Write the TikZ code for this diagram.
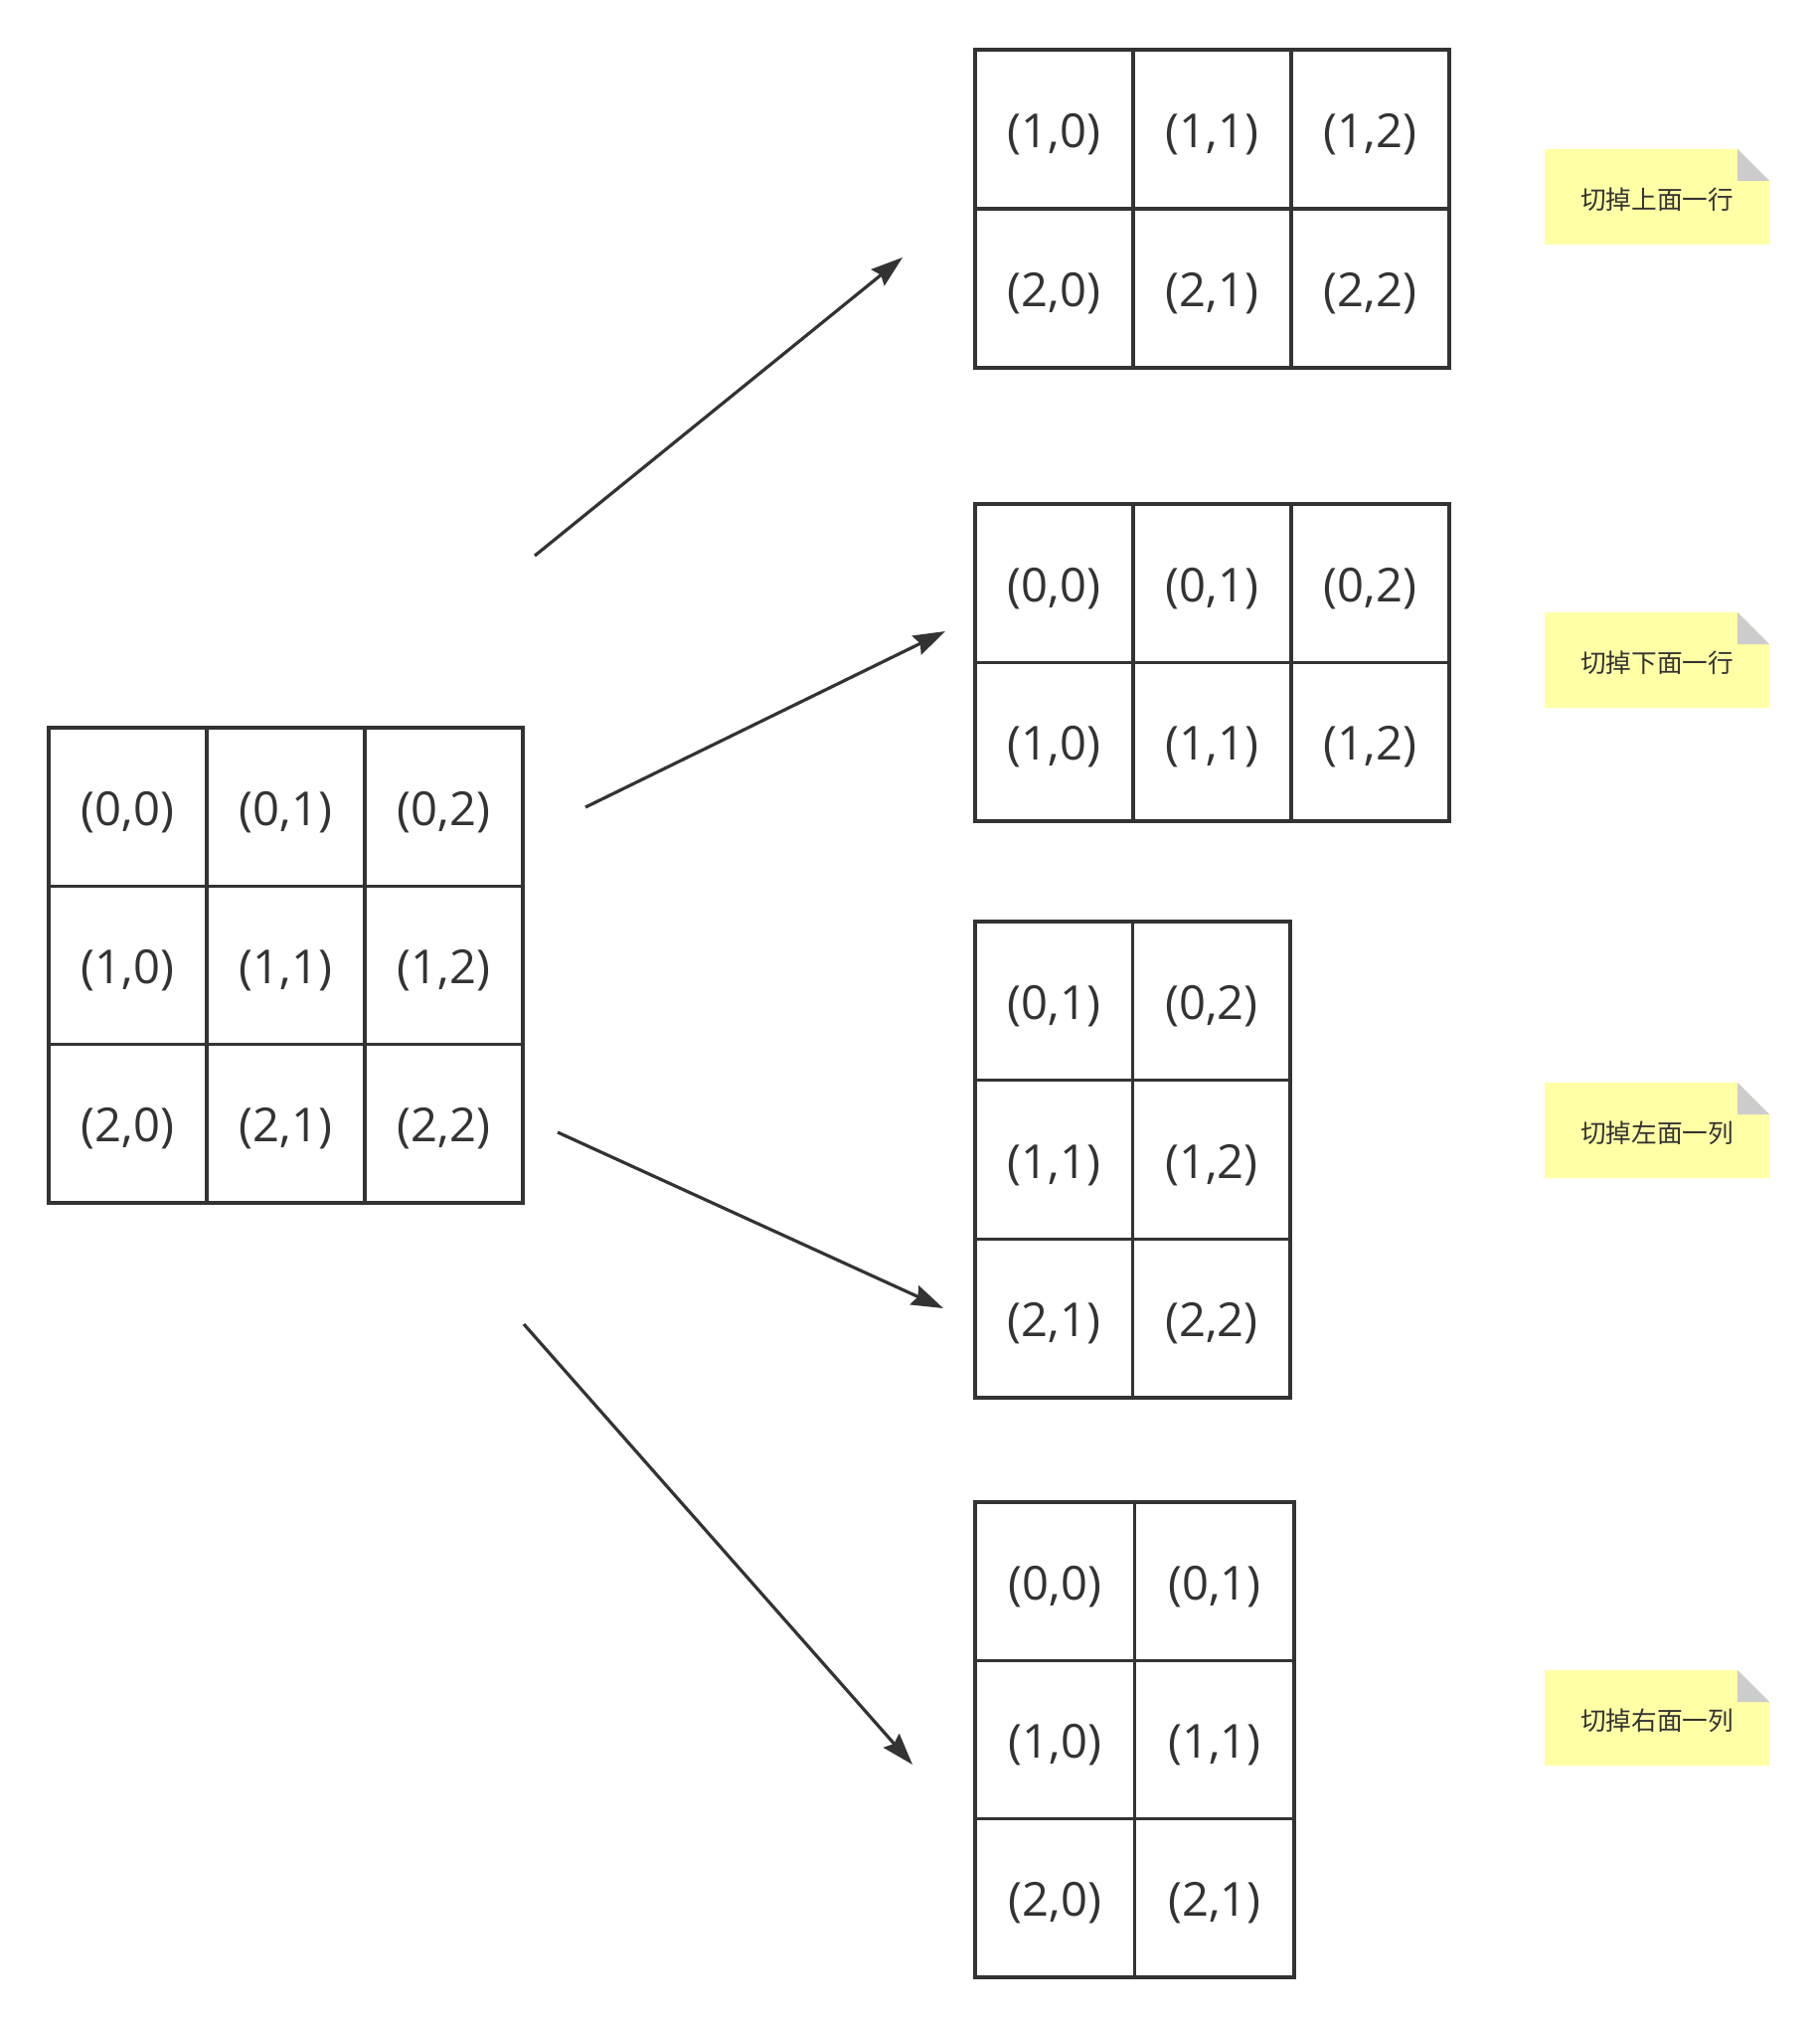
\documentclass[tikz,border=0pt]{standalone}
\usepackage{fontspec}
\setmainfont{Open Sans}
\newfontfamily\cjk{Noto Sans CJK SC}
\usetikzlibrary{arrows.meta}
\definecolor{ink}{HTML}{333333}
\definecolor{noteyellow}{HTML}{FFFFA6}
\definecolor{foldgray}{HTML}{CCCCCC}
\tikzset{
  cell/.style={draw=ink, line width=0.034cm, rectangle, inner sep=0pt, text=ink, font=\fontsize{13.4}{15}\selectfont, text height=13.6pt, text depth=3pt},
  conn/.style={draw=ink, line width=0.032cm, -{Stealth[length=0.32cm,width=0.21cm,inset=0.04cm]}},
  notetext/.style={text=ink, font=\cjk\fontsize{7.3}{9}\selectfont, inner sep=0pt},
}
\newcommand\stickynote[3]{% name, top y, text
  \fill[noteyellow] (1554,#2) -- (1748,#2) -- (1780,{#2+32}) -- (1780,{#2+96}) -- (1554,{#2+96}) -- cycle;
  \fill[foldgray] (1748,#2) -- (1748,{#2+32}) -- (1780,{#2+32}) -- cycle;
  \node[notetext] (#1) at (1667,{#2+51}) {#3};
}
\begin{document}
\begin{tikzpicture}[x=0.01cm,y=-0.01cm]
\useasboundingbox (0,0) rectangle (1830,2040);
% main grid
\foreach \r in {0,1,2} \foreach \c in {0,1,2}
  \node[cell, minimum width=1.59cm, minimum height=1.593cm] (m\r\c) at ({49+159*\c+79.5},{732+159.3*\r+79.65}) {(\r,\c)};
% grid A: cut top row
\foreach \r [count=\i from 0] in {1,2} \foreach \c in {0,1,2}
  \node[cell, minimum width=1.59cm, minimum height=1.6cm] (a\r\c) at ({981+159*\c+79.5},{50+160*\i+80}) {(\r,\c)};
% grid B: cut bottom row
\foreach \r in {0,1} \foreach \c in {0,1,2}
  \node[cell, minimum width=1.59cm, minimum height=1.595cm] (b\r\c) at ({981+159*\c+79.5},{507+159.5*\r+79.75}) {(\r,\c)};
% grid C: cut left column
\foreach \r in {0,1,2} \foreach \c [count=\j from 0] in {1,2}
  \node[cell, minimum width=1.585cm, minimum height=1.597cm] (c\r\c) at ({981+158.5*\j+79.25},{927+159.7*\r+79.85}) {(\r,\c)};
% grid D: cut right column
\foreach \r in {0,1,2} \foreach \c in {0,1}
  \node[cell, minimum width=1.605cm, minimum height=1.593cm] (d\r\c) at ({981+160.5*\c+80.25},{1511+159.3*\r+79.65}) {(\r,\c)};
% arrows
\coordinate (s1) at (538,559);  \coordinate (e1) at (908,259);
\coordinate (s2) at (589,812);  \coordinate (e2) at (951,635);
\coordinate (s3) at (561,1139); \coordinate (e3) at (949,1316);
\coordinate (s4) at (527,1332); \coordinate (e4) at (918,1775);
\draw[conn] (s1) -- (e1);
\draw[conn] (s2) -- (e2);
\draw[conn] (s3) -- (e3);
\draw[conn] (s4) -- (e4);
% notes
\stickynote{n1}{150}{切掉上面一行}
\stickynote{n2}{616}{切掉下面一行}
\stickynote{n3}{1089}{切掉左面一列}
\stickynote{n4}{1680}{切掉右面一列}
\end{tikzpicture}
\end{document}
